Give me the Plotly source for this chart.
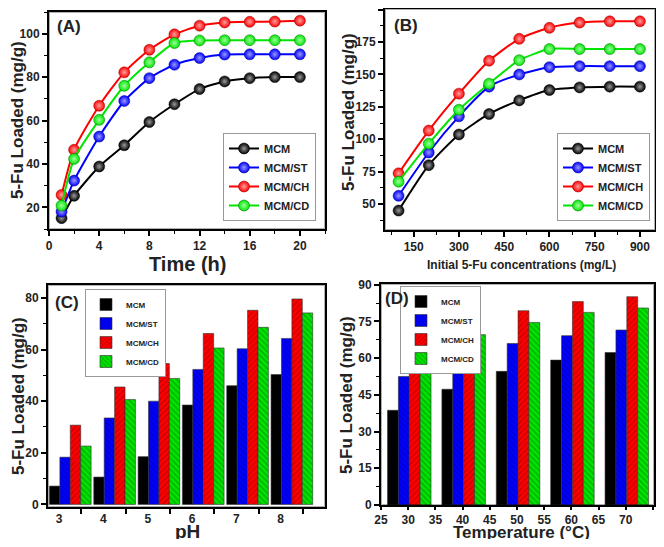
import plotly.graph_objects as go

# panel A: loading vs time
time_h = [1, 2, 4, 6, 8, 10, 12, 14, 16, 18, 20]
a_mcm = [15, 25.3, 38.8, 48.6, 59.3, 67.5, 74.5, 78, 79.5, 80, 80]
a_st = [18, 32.3, 52.6, 69, 79.5, 85.7, 88.8, 90.4, 90.5, 90.5, 90.5]
a_ch = [25.7, 46.5, 66.8, 82.2, 92.6, 99.7, 103.7, 105.2, 105.5, 105.6, 106]
a_cd = [20.8, 42.3, 60.3, 76, 86.8, 95.7, 96.9, 97, 97, 97, 97]

# panel B: loading vs initial concentration
conc = [100, 200, 300, 400, 500, 600, 700, 800, 900]
b_mcm = [45, 80, 103.7, 119.5, 130, 138, 140, 140.6, 140.6]
b_st = [56.4, 89.8, 117.7, 140.6, 150, 155.6, 156.4, 156.4, 156.4]
b_ch = [73.7, 106.7, 135.2, 160.6, 177.5, 186, 190, 191, 191]
b_cd = [67.3, 96.6, 122.8, 142.9, 161, 169.6, 169.6, 169.6, 169.6]

# panel C: loading vs pH
ph = [3, 4, 5, 6, 7, 8]
ph_ticks = [3.5, 4.5, 5.5, 6.5, 7.5, 8.5]
c_mcm = [7.1, 10.6, 18.5, 38.5, 46, 50.3]
c_st = [18.3, 33.5, 40, 52.3, 60.3, 64.3]
c_ch = [30.7, 45.5, 54.6, 66.2, 75.2, 79.6]
c_cd = [22.6, 40.6, 48.8, 60.6, 68.6, 74.2]

# panel D: loading vs temperature
temp = [30, 40, 50, 60, 70]
d_mcm = [38.7, 47.3, 54.6, 59.2, 62.3]
d_st = [52.5, 60.3, 66, 69.2, 71.5]
d_ch = [66.4, 73.9, 79.4, 83.1, 85.1]
d_cd = [60.7, 69.6, 74.6, 78.7, 80.5]

names = ["MCM", "MCM/ST", "MCM/CH", "MCM/CD"]
colors = ["#000000", "#0000ff", "#ff0000", "#00e600"]
centers = ["#9a9a9a", "#9a9aff", "#ffa0a0", "#a0ffa0"]
darks = ["#000000", "#000090", "#900000", "#007000"]
patterns = ["", "\\", "/", "\\"]

FONT = "Liberation Sans, Arial, sans-serif"
# page body has an 8px margin, so the figure is 16px smaller than the window
OFF = 8
W, H = 664 - 2 * OFF, 547 - 2 * OFF

fig = go.Figure()


def px_x(p):
    return min(max((p - OFF) / W, 0), 1)


def px_y(p):
    return min(max(1 - (p - OFF) / H, 0), 1)


def make_axis(domain, rng, dtick, anchor, minor_dtick=None, tickvals=None, ticklen=5):
    ax = dict(domain=domain, range=rng, dtick=dtick, tick0=0, anchor=anchor,
              automargin=False, showgrid=False, zeroline=False,
              showline=True, linecolor="black", linewidth=2, mirror=True,
              ticks="outside", ticklen=ticklen, tickwidth=1.5, tickcolor="black",
              tickfont=dict(family=FONT, size=12, color="#222", weight="bold"))
    if tickvals:
        ax["tickvals"] = tickvals
    if minor_dtick:
        ax["minor"] = dict(dtick=minor_dtick, ticks="outside", ticklen=3,
                           tickwidth=1.2, tickcolor="black", showgrid=False)
    return ax


# line panels
for data, xs, ax, leg in [((a_mcm, a_st, a_ch, a_cd), time_h, ("x", "y"), "legend"),
                          ((b_mcm, b_st, b_ch, b_cd), conc, ("x2", "y2"), "legend2")]:
    for i, ys in enumerate(data):
        fig.add_trace(go.Scatter(
            x=xs, y=ys, name=names[i], mode="lines+markers",
            line=dict(color=colors[i], width=2, shape="spline", smoothing=0.6),
            marker=dict(size=11, color=colors[i],
                        gradient=dict(type="radial", color=centers[i]),
                        line=dict(color=darks[i], width=0.5)),
            xaxis=ax[0], yaxis=ax[1], legend=leg))

# bar panels
for data, xs, ax, leg, width, offs in [
        ((c_mcm, c_st, c_ch, c_cd), ph, ("x3", "y3"), "legend3", 0.235, [-0.217, 0.018, 0.253, 0.488]),
        ((d_mcm, d_st, d_ch, d_cd), temp, ("x4", "y4"), "legend4", 2.0, [-3.8, -1.8, 0.2, 2.2])]:
    for i, ys in enumerate(data):
        fig.add_trace(go.Bar(
            x=xs, y=ys, name=names[i], width=width, offset=offs[i],
            marker=dict(color=colors[i], line=dict(color="#303030", width=0.6),
                        pattern=dict(shape=patterns[i], fgcolor=darks[i], size=4, solidity=0.35)),
            xaxis=ax[0], yaxis=ax[1], legend=leg))

# pH axis: labels on the groups, tick marks between groups
x3 = make_axis([px_x(48), px_x(325)], [2.75, 9.0], 1, "y3", tickvals=ph)
x3["ticks"] = ""
x3["minor"] = dict(tickvals=ph_ticks, ticks="outside", ticklen=5, tickwidth=1.5,
                   tickcolor="black", showgrid=False)

fig.update_layout(
    template="simple_white",
    width=W, height=H, margin=dict(l=0, r=0, t=0, b=0, autoexpand=False),
    plot_bgcolor="white", paper_bgcolor="white",
    font=dict(family=FONT, color="#222"),
    barmode="overlay", showlegend=True,
    xaxis=make_axis([px_x(49), px_x(325)], [0, 22], 4, "y", 2),
    yaxis=make_axis([px_y(229), px_y(12)], [10, 110], 20, "x", 10),
    xaxis2=make_axis([px_x(385), px_x(655)], [55, 950], 150, "y2", 75),
    yaxis2=make_axis([px_y(230), px_y(9)], [30, 200.5], 25, "x2", 12.5),
    xaxis3=x3,
    yaxis3=make_axis([px_y(507), px_y(285)], [-1, 85], 20, "x3", 10),
    xaxis4=make_axis([px_x(381), px_x(654)], [25, 75.2], 5, "y4", ticklen=3),
    yaxis4=make_axis([px_y(505), px_y(284)], [0, 90.3], 15, "x4", 7.5),
)

# frame around each panel
for xa, ya in [("x", "y"), ("x2", "y2"), ("x3", "y3"), ("x4", "y4")]:
    fig.add_shape(type="rect", xref=xa + " domain", yref=ya + " domain",
                  x0=0, x1=1, y0=0, y1=1, line=dict(color="black", width=2),
                  fillcolor="rgba(0,0,0,0)", layer="above")

leg_line = dict(bgcolor="white", bordercolor="#999", borderwidth=1,
                font=dict(family=FONT, size=11, color="#222", weight="bold"),
                tracegroupgap=0, itemwidth=30)
leg_bar = dict(bgcolor="white", bordercolor="#999", borderwidth=1,
               font=dict(family=FONT, size=8, color="#222", weight="bold"),
               tracegroupgap=0, itemwidth=30)
fig.update_layout(
    legend=dict(x=px_x(316), y=px_y(221), xanchor="right", yanchor="bottom", **leg_line),
    legend2=dict(x=px_x(650), y=px_y(221), xanchor="right", yanchor="bottom", **leg_line),
    legend3=dict(x=px_x(85), y=px_y(289), xanchor="left", yanchor="top", **leg_bar),
    legend4=dict(x=px_x(400), y=px_y(286), xanchor="left", yanchor="top", **leg_bar),
)


def label(x, y, s, size, angle=0):
    return dict(x=px_x(x), y=px_y(y), text="<b>%s</b>" % s, textangle=angle,
                font=dict(family=FONT, size=size, color="#222"),
                showarrow=False, xref="paper", yref="paper",
                xanchor="center", yanchor="middle")


fig.update_layout(annotations=[
    label(18, 120, "5-Fu Loaded (mg/g)", 17, -90),
    label(348, 112, "5-Fu Loaded (mg/g)", 17, -90),
    label(18, 396, "5-Fu Loaded (mg/g)", 17, -90),
    label(347, 395, "5-Fu Loaded (mg/g)", 17, -90),
    label(187, 264, "Time (h)", 20),
    label(521, 265, "Initial 5-Fu concentrations (mg/L)", 12),
    label(187, 531, "pH", 19),
    label(521, 532, "Temperature (°C)", 17),
    label(69, 26, "(A)", 17),
    label(406, 25, "(B)", 17),
    label(67, 302, "(C)", 17),
    label(397, 298, "(D)", 17),
])

fig.write_html("out.html")
